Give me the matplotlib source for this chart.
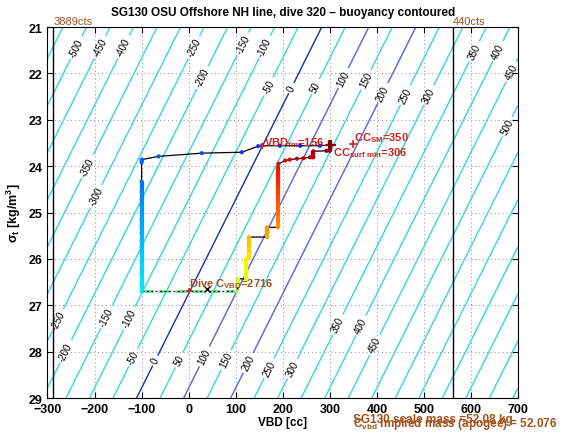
import numpy as np
import matplotlib
matplotlib.use("Agg")
from matplotlib import pyplot as plt
from matplotlib.collections import LineCollection

plt.rcParams['font.family'] = ['Liberation Sans', 'DejaVu Sans']
plt.rcParams['mathtext.default'] = 'regular'

# linear buoyancy model: neutral VBD vs sigma_t
NEUTRAL_VBD_21 = 283.0   # cc, neutral VBD at sigma_t = 21
VBD_PER_SIGMA = -49.2    # cc per kg/m^3
levels = np.arange(-550, 851, 50)

# where the contour labels sit (vbd, sigma)
label_vbd = [-246, -193, -142, 9, 116, 169, 612, 662, 690, 679,
             28, 173, 219, 272, 325, 382, 410, 463, 513,
             -213, -199, -277, -259, -173, -123, -118, -72, -18,
             35, 84, 130, 173, 222, 322, 368, 400]
label_sig = [21.41, 21.41, 21.41, 21.43, 21.37, 21.47, 21.55, 21.55, 21.98, 23.16,
             22.08, 22.30, 22.32, 22.30, 22.08, 22.16, 22.41, 22.48, 22.48,
             24.02, 24.64, 27.33, 28.01, 27.26, 27.29, 28.12, 28.19, 28.19,
             28.11, 28.20, 28.26, 28.37, 28.37, 27.44, 27.44, 27.87]

# dive: surface pump-down then descent at constant VBD
dive_vbd = [300, 279, 237, 194, 156, 148, 113, 28, -64, -100,
            -100, -100, -100, -100, -100, -100, -100, -100, -100, -100,
            -100, -100, -100, -100, -100, -100, -100]
dive_sig = [23.54, 23.56, 23.56, 23.56, 23.56, 23.57, 23.70, 23.72, 23.79, 23.86,
            23.92, 24.33, 24.55, 24.72, 24.85, 25.00, 25.15, 25.30, 25.45, 25.60,
            25.75, 25.90, 26.05, 26.20, 26.35, 26.52, 26.70]

# apogee pump
apo_vbd = [-100, 102]
apo_sig = [26.70, 26.70]

# climb
climb_vbd = [102, 105, 105, 123, 123, 123, 123, 128, 128, 128, 128, 167, 167, 167,
             190, 190, 190, 190, 190, 190, 190, 190, 190, 190, 191,
             205, 215, 230, 244, 258, 265, 265, 293, 300, 300]
climb_sig = [26.70, 26.57, 26.43, 26.43, 26.28, 26.14, 26.00, 25.98, 25.83, 25.68, 25.53,
             25.53, 25.42, 25.32, 25.32, 25.17, 25.02, 24.87, 24.72, 24.57, 24.42, 24.28,
             24.15, 24.03, 23.95, 23.88, 23.86, 23.84, 23.83, 23.81, 23.81, 23.68, 23.67,
             23.67, 23.48]

cts_vbd = [-288, 561]
cts_text = ['3889cts', '440cts']

BROWN = '#a2521f'
RED = '#d02020'


def draw_track(ax, v, s, lo, hi):
    v = np.asarray(v, float)
    s = np.asarray(s, float)
    d = np.r_[0, np.cumsum(np.abs(np.diff(s)) + 0.003 * np.abs(np.diff(v)))]
    cols = plt.cm.jet(lo + (hi - lo) * d / d[-1])
    ax.plot(v, s, color='k', lw=0.9, zorder=4)
    segs, segc = [], []
    for i in range(len(v) - 1):
        if v[i] == v[i + 1] and abs(s[i + 1] - s[i]) < 0.3:
            segs.append([(v[i], s[i]), (v[i + 1], s[i + 1])])
            segc.append(cols[i])
    ax.add_collection(LineCollection(segs, colors=segc, linewidths=3, zorder=5))
    ax.scatter(v, s, c=cols, s=9, linewidths=0, zorder=6)


fig = plt.figure(figsize=(5.7, 4.39), dpi=100)
ax = fig.add_axes([0.0833, 0.0911, 0.8254, 0.8451])
ax.set_xlim(-300, 700)
ax.set_ylim(29, 21)

vg = np.linspace(-300, 700, 201)
sg = np.linspace(21, 29, 81)
V, S = np.meshgrid(vg, sg)
B = V - (NEUTRAL_VBD_21 + VBD_PER_SIGMA * (S - 21))

cols = []
for lv in levels:
    if lv == 0:
        cols.append('#1e3a9a')
    elif lv in (100, 200):
        cols.append('#5a6cd0')
    else:
        cols.append('#3cd8dc')
cs = ax.contour(V, S, B, levels=levels, colors=cols, linewidths=1.05, zorder=2)
ax.clabel(cs, manual=list(zip(label_vbd, label_sig)), inline=True, fmt='%d',
          fontsize=7, colors='k', inline_spacing=3)

for x, t in zip(cts_vbd, cts_text):
    ax.axvline(x, color='k', lw=1, zorder=3)
    ax.text(x, 20.97, t, color=BROWN, fontsize=8, ha='left', va='bottom')

draw_track(ax, dive_vbd, dive_sig, 0.15, 0.36)
ax.plot(apo_vbd, apo_sig, color='#62dd80', lw=2, ls=(0, (4, 2)), zorder=4)
ax.plot(apo_vbd, apo_sig, color='k', lw=0.8, ls=(0, (1.5, 2.5)), zorder=5)
draw_track(ax, climb_vbd, climb_sig, 0.58, 1.0)

ax.plot(156, 23.56, '+', color=RED, ms=5, mew=1.2, zorder=7)
ax.plot(0, 26.70, '+', color=RED, ms=5, mew=1.2, zorder=7)
ax.plot(38, 26.64, 'x', color='k', ms=4, mew=1, zorder=7)
ax.plot(350, 23.52, '+', color=RED, ms=6, mew=1.2, zorder=7)
ax.plot(303, 23.55, '+', color='#8b0000', ms=7, mew=1.6, zorder=7)

ax.text(160, 23.48, 'VBD$_{fm}$=156', color=RED, fontsize=8, fontweight='bold',
        va='center', ha='left', zorder=8)
ax.text(352, 23.37, 'CC$_{SM}$=350', color=RED, fontsize=8, fontweight='bold',
        va='center', ha='left', zorder=8)
ax.text(306, 23.70, 'CC$_{surf\\ min}$=306', color=RED, fontsize=8, fontweight='bold',
        va='center', ha='left', zorder=8)
ax.text(1, 26.53, 'Dive C$_{VBD}$=2716', color=BROWN, fontsize=8, fontweight='bold',
        va='center', ha='left', zorder=8)

ax.text(349, 29.46, 'SG130 scale mass =52.08 kg', color=BROWN, fontsize=8.5,
        fontweight='bold', va='center', ha='left', clip_on=False)
ax.text(349, 29.53, 'C$_{vbd}$ implied mass (apogee) = 52.076', color=BROWN,
        fontsize=8.5, fontweight='bold', va='center', ha='left', clip_on=False)

ax.set_xticks(np.arange(-300, 701, 100))
ax.set_yticks(np.arange(21, 30, 1))
ax.grid(True, ls=(0, (1, 3)), color='#888888', lw=0.7)
ax.set_axisbelow(True)
ax.tick_params(direction='in', top=True, right=True, length=4, labelsize=9)
for lab in ax.get_xticklabels() + ax.get_yticklabels():
    lab.set_fontweight('bold')
ax.set_xlabel('VBD [cc]', fontsize=8.5, fontweight='bold', labelpad=1)
ax.set_ylabel('$\\sigma_t$ [kg/m$^3$]', fontsize=9, fontweight='bold', labelpad=4)
ax.set_title('SG130 OSU Offshore NH line, dive 320 \u2013 buoyancy contoured',
             fontsize=8.5, fontweight='bold', pad=9)

fig.savefig('out.png', dpi=100)
